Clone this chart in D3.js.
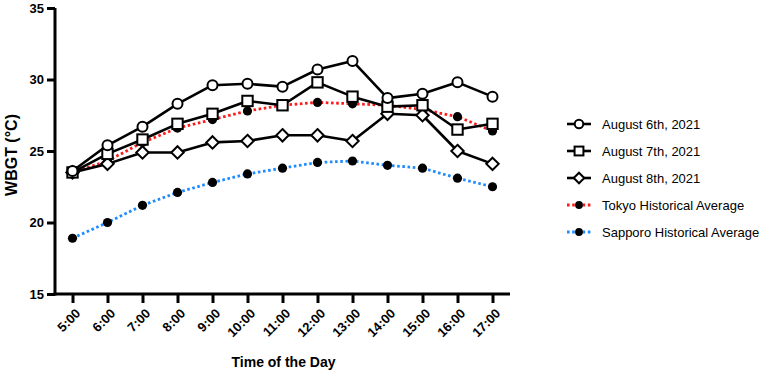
<!DOCTYPE html>
<html>
<head>
<meta charset="utf-8">
<script src="https://cdn.jsdelivr.net/npm/d3@7"></script>
<style>
  body { margin: 0; background: #fff; }
  svg { display: block; font-family: "Liberation Sans", Arial, sans-serif; }
</style>
</head>
<body>
<svg id="chart" width="768" height="376"></svg>
<script>
const hours = ["5:00", "6:00", "7:00", "8:00", "9:00", "10:00", "11:00", "12:00", "13:00", "14:00", "15:00", "16:00", "17:00"];
const aug6 = [23.6, 25.4, 26.7, 28.3, 29.6, 29.7, 29.5, 30.7, 31.3, 28.7, 29.0, 29.8, 28.8];
const aug7 = [23.5, 24.8, 25.8, 26.9, 27.6, 28.5, 28.2, 29.8, 28.8, 28.1, 28.2, 26.5, 26.9];
const aug8 = [23.5, 24.1, 24.9, 24.9, 25.6, 25.7, 26.1, 26.1, 25.7, 27.6, 27.5, 25.0, 24.1];
const tokyo = [23.5, 24.3, 25.6, 26.6, 27.2, 27.8, 28.2, 28.4, 28.3, 28.2, 27.9, 27.4, 26.4];
const sapporo = [18.9, 20.0, 21.2, 22.1, 22.8, 23.4, 23.8, 24.2, 24.3, 24.0, 23.8, 23.1, 22.5];
const yTicks = [15, 20, 25, 30, 35];

const svg = d3.select("#chart");
const margin = { left: 55, right: 510, top: 8, bottom: 294 };

const x = d3.scalePoint()
  .domain(hours)
  .range([margin.left, margin.right])
  .padding(0.5);

const y = d3.scaleLinear()
  .domain([15, 35])
  .range([margin.bottom, margin.top]);

// series, drawn back to front
const series = [
  { name: "Sapporo Historical Average", values: sapporo, line: "#1f8bff", dotted: true, marker: "dot" },
  { name: "Tokyo Historical Average", values: tokyo, line: "#ff1a1a", dotted: true, marker: "dot" },
  { name: "August 8th, 2021", values: aug8, line: "#000", dotted: false, marker: "diamond" },
  { name: "August 7th, 2021", values: aug7, line: "#000", dotted: false, marker: "square" },
  { name: "August 6th, 2021", values: aug6, line: "#000", dotted: false, marker: "circle" }
];

const line = d3.line()
  .x((d, i) => x(hours[i]))
  .y(d => y(d));

function drawMarker(g, type, cx, cy, s) {
  if (type === "circle") {
    g.append("circle").attr("cx", cx).attr("cy", cy).attr("r", 5 * s)
      .attr("fill", "#fff").attr("stroke", "#000").attr("stroke-width", 2);
  } else if (type === "square") {
    const h = 5.2 * s;
    g.append("rect").attr("x", cx - h).attr("y", cy - h).attr("width", 2 * h).attr("height", 2 * h)
      .attr("fill", "#fff").attr("stroke", "#000").attr("stroke-width", 2);
  } else if (type === "diamond") {
    const h = 6.2 * s;
    g.append("path").attr("d", `M${cx},${cy - h}L${cx + h},${cy}L${cx},${cy + h}L${cx - h},${cy}Z`)
      .attr("fill", "#fff").attr("stroke", "#000").attr("stroke-width", 2);
  } else {
    g.append("circle").attr("cx", cx).attr("cy", cy).attr("r", 4.6 * s).attr("fill", "#000");
  }
}

series.forEach(s => {
  const g = svg.append("g");
  const p = g.append("path")
    .attr("d", line(s.values))
    .attr("fill", "none")
    .attr("stroke", s.line);
  if (s.dotted) {
    p.attr("stroke-width", 2.8).attr("stroke-dasharray", "2.6,2.6");
  } else {
    p.attr("stroke-width", 2.6).attr("stroke-linejoin", "round");
  }
  s.values.forEach((v, i) => drawMarker(g, s.marker, x(hours[i]), y(v), 1));
});

// axes
const yAxis = svg.append("g")
  .attr("transform", `translate(${margin.left},0)`)
  .call(d3.axisLeft(y).tickValues(yTicks).tickSize(8).tickPadding(3));
const xAxis = svg.append("g")
  .attr("transform", `translate(0,${margin.bottom})`)
  .call(d3.axisBottom(x).tickSize(9).tickPadding(6));

[yAxis, xAxis].forEach(a => {
  a.selectAll(".tick line").attr("stroke", "#000").attr("stroke-width", 3);
  a.selectAll(".tick text").attr("fill", "#000")
    .style("font-size", "13px").style("font-weight", "bold")
    .style("font-family", "'Liberation Sans', Arial, sans-serif");
  a.select(".domain").attr("stroke", "#000").attr("stroke-width", 3);
});
yAxis.select(".domain").attr("d", `M0,${margin.bottom + 1.5}V${margin.top}`);
xAxis.select(".domain").attr("d", `M${margin.left - 1.5},0H${margin.right}`);

xAxis.selectAll(".tick text")
  .attr("text-anchor", "end")
  .attr("y", 0)
  .attr("dy", "0.35em")
  .attr("transform", "translate(5,17) rotate(-45)");

// axis titles
svg.append("text")
  .attr("transform", `translate(${(margin.left + margin.right) / 2 + 1},367)`)
  .attr("text-anchor", "middle")
  .style("font-size", "14px").style("font-weight", "bold")
  .text("Time of the Day");

svg.append("text")
  .attr("transform", `translate(17,155) rotate(-90)`)
  .attr("text-anchor", "middle")
  .style("font-size", "16px").style("font-weight", "bold")
  .text("WBGT (°C)");

// legend
const legendOrder = series.slice().reverse();
const legend = svg.append("g");
legendOrder.forEach((s, i) => {
  const ly = 124 + i * 27;
  const g = legend.append("g");
  const p = g.append("path")
    .attr("d", `M567,${ly}H591`)
    .attr("fill", "none")
    .attr("stroke", s.line);
  if (s.dotted) p.attr("stroke-width", 2.8).attr("stroke-dasharray", "2.6,2.6");
  else p.attr("stroke-width", 2.6);
  drawMarker(g, s.marker, 579, ly, 0.85);
  g.append("text")
    .attr("x", 602).attr("y", ly)
    .attr("dy", "0.35em")
    .style("font-size", "13px")
    .text(s.name);
});
</script>
</body>
</html>
